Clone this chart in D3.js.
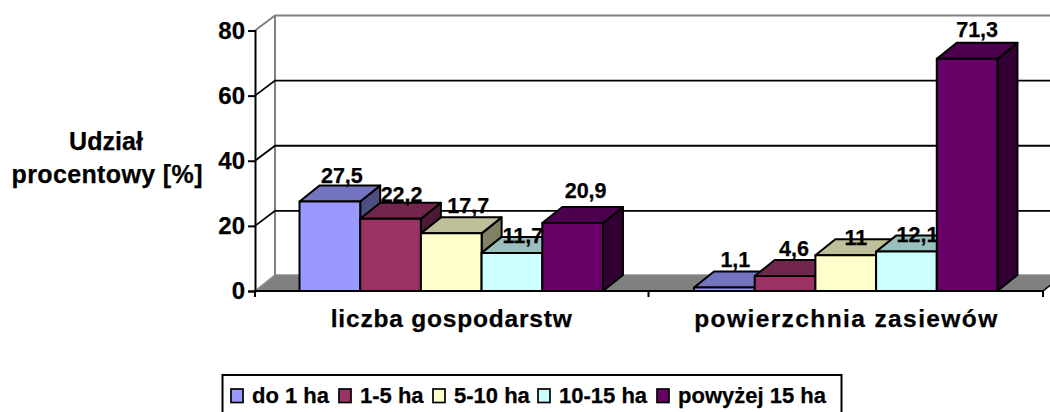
<!DOCTYPE html>
<html><head><meta charset="utf-8">
<script src="https://cdn.jsdelivr.net/npm/d3@7"></script>
<style>
html,body{margin:0;padding:0;background:#fff;overflow:hidden}
svg{display:block}
text{font-family:"Liberation Sans",Arial,sans-serif;font-weight:bold;fill:#000;stroke:#000;stroke-width:.25px}
</style></head><body>
<svg id="c" width="1050" height="412"></svg>
<script>
const categories = ["liczba gospodarstw", "powierzchnia zasiewów"];
const seriesNames = ["do 1 ha", "1-5 ha", "5-10 ha", "10-15 ha", "powyżej 15 ha"];
const seriesColors = ["#9999FF", "#993366", "#FFFFCC", "#CCFFFF", "#660066"];
const groupOne = [27.5, 22.2, 17.7, 11.7, 20.9];
const groupTwo = [1.1, 4.6, 11, 12.1, 71.3];
const yTicks = [0, 20, 40, 60, 80];
const groups = [groupOne, groupTwo];

// placement offsets for data labels, relative to each bar's rear top edge
const labelNudgeX = [[12, 11, 17, 11, 13], [11, 9, 10, 11, 10]];
const labelNudgeY = [[-2, -1, -4, 6, -9], [-4, -4, 6, 6, -6]];

const svg = d3.select("#c");
const DX = 20, DY = -16, WALL_DY = -15;
const y = d3.scaleLinear().domain([0, 80]).range([291, 30.5]);
const x0 = d3.scaleBand().domain(categories).range([254, 1043]);
const x1 = d3.scaleBand().domain(seriesNames).range([0, x0.bandwidth()]).paddingInner(0).paddingOuter(0.75);
const axisLeftX = 255;

// walls and floor
const y0 = y(0), yTop = y(80);
svg.append("polygon")
  .attr("points", [[axisLeftX, y0], [axisLeftX + DX, y0 + DY], [1043 + DX, y0 + DY], [1043, y0]].join(" "))
  .attr("fill", "#808080").attr("stroke", "#8c8c8c").attr("stroke-width", 1.5);
svg.append("path")
  .attr("d", `M${axisLeftX},${yTop}L${axisLeftX + DX},${yTop + WALL_DY}H1060M${axisLeftX + DX},${yTop + WALL_DY}V${y0 + DY}`)
  .attr("fill", "none").attr("stroke", "#808080").attr("stroke-width", 2);
svg.selectAll("path.grid").data(yTicks.filter(t => t > 0 && t < 80)).join("path")
  .attr("class", "grid")
  .attr("d", t => `M${axisLeftX},${y(t)}L${axisLeftX + DX},${y(t) + WALL_DY}H1060`)
  .attr("fill", "none").attr("stroke", "#000").attr("stroke-width", 1.8);
svg.append("path")
  .attr("d", `M1043,${y0}L${1043 + DX},${y0 + DY}`)
  .attr("stroke", "#000").attr("stroke-width", 1.5);

// axes
const yAxis = d3.axisLeft(y).tickValues(yTicks).tickSize(7).tickPadding(3);
const gy = svg.append("g").attr("transform", `translate(${axisLeftX},0)`).call(yAxis);
gy.selectAll("line,path").attr("stroke", "#000").attr("stroke-width", 2);
gy.selectAll("text").style("font-size", "24px").attr("fill", "#000");
gy.attr("font-size", null).attr("font-family", null);

svg.append("line").attr("x1", axisLeftX - 1).attr("x2", 1043).attr("y1", y0).attr("y2", y0)
  .attr("stroke", "#000").attr("stroke-width", 2);
const bounds = [axisLeftX, x0(categories[0]) + x0.step(), x0(categories[1]) + x0.step()];
svg.selectAll("line.xt").data(bounds).join("line").attr("class", "xt")
  .attr("x1", d => d).attr("x2", d => d).attr("y1", y0).attr("y2", y0 + 6)
  .attr("stroke", "#000").attr("stroke-width", 2);

// 3D bars, drawn left to right with each label after its bar
const shade = (c, k) => { const r = d3.rgb(c); return d3.rgb(r.r * k, r.g * k, r.b * k).formatHex(); };
categories.forEach((cat, gi) => {
  groups[gi].forEach((v, si) => {
    const name = seriesNames[si];
    const l = x0(cat) + x1(name), r = l + x1.bandwidth(), t = y(v), b = y(0);
    const g = svg.append("g").attr("stroke", "#000").attr("stroke-width", 2).attr("stroke-linejoin", "round");
    g.append("polygon").attr("fill", shade(seriesColors[si], .5))
      .attr("points", [[r, t], [r + DX, t + DY], [r + DX, b + DY], [r, b]].join(" "));
    g.append("polygon").attr("fill", shade(seriesColors[si], .75))
      .attr("points", [[l, t], [l + DX, t + DY], [r + DX, t + DY], [r, t]].join(" "));
    g.append("rect").attr("fill", seriesColors[si])
      .attr("x", l).attr("y", t).attr("width", r - l).attr("height", b - t);
    svg.append("text")
      .attr("x", (l + r) / 2 + labelNudgeX[gi][si])
      .attr("y", t + DY + labelNudgeY[gi][si])
      .attr("text-anchor", "middle")
      .style("font-size", "21.5px")
      .text(String(v).replace(".", ","));
  });
});

// category labels
const catWidths = [241, 303];
svg.selectAll("text.cat").data(categories).join("text").attr("class", "cat")
  .attr("x", d => x0(d) + x0.bandwidth() / 2).attr("y", 327)
  .attr("text-anchor", "middle")
  .attr("textLength", (d, i) => catWidths[i]).attr("lengthAdjust", "spacing")
  .style("font-size", "24.5px")
  .text(d => d);

// y title
const title = svg.append("g").attr("text-anchor", "middle").style("font-size", "25px");
title.append("text").attr("x", 106).attr("y", 150).attr("textLength", 74).text("Udział");
title.append("text").attr("x", 107).attr("y", 183).attr("textLength", 191).text("procentowy [%]");

// legend
svg.append("rect").attr("x", 222.5).attr("y", 375).attr("width", 619).attr("height", 50)
  .attr("fill", "#fff").attr("stroke", "#000").attr("stroke-width", 2);
const swatchX = [231, 339, 433, 538, 657];
seriesNames.forEach((n, i) => {
  svg.append("rect").attr("x", swatchX[i]).attr("y", 389).attr("width", 12).attr("height", 13.5)
    .attr("fill", seriesColors[i]).attr("stroke", "#000").attr("stroke-width", 1.7);
  svg.append("text").attr("x", swatchX[i] + 21).attr("y", 403)
    .style("font-size", "22px").text(n);
});
</script>
</body></html>
